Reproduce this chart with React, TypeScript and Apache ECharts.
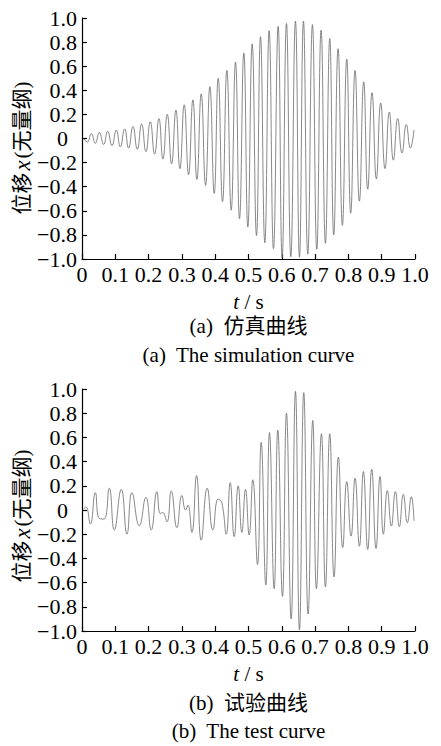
import React, { useEffect, useRef } from "react";
import * as echarts from "echarts";

// Simulation curve (a): extrema (time in s, displacement, dimensionless)
const simT = [
  0.005, 0.016, 0.028, 0.040, 0.052, 0.065, 0.077, 0.090, 0.103, 0.115,
  0.128, 0.140, 0.153, 0.166, 0.179, 0.192, 0.205, 0.218, 0.231, 0.243,
  0.256, 0.269, 0.282, 0.294, 0.307, 0.320, 0.333, 0.345, 0.358, 0.371,
  0.384, 0.397, 0.409, 0.422, 0.435, 0.448, 0.461, 0.473, 0.486, 0.498,
  0.511, 0.524, 0.536, 0.549, 0.562, 0.575, 0.589, 0.601, 0.614, 0.627,
  0.641, 0.653, 0.665, 0.678, 0.692, 0.705, 0.718, 0.731, 0.744, 0.756,
  0.769, 0.782, 0.795, 0.807, 0.820, 0.833, 0.846, 0.858, 0.871, 0.884,
  0.897, 0.910, 0.923, 0.935, 0.948, 0.961, 0.974, 0.986, 0.997,
];
const simV = [
  0.0, -0.03, 0.04, -0.04, 0.05, -0.05, 0.06, -0.06, 0.07, -0.07,
  0.08, -0.08, 0.10, -0.09, 0.12, -0.11, 0.14, -0.13, 0.165, -0.17,
  0.20, -0.21, 0.235, -0.25, 0.28, -0.30, 0.32, -0.34, 0.37, -0.39,
  0.43, -0.455, 0.50, -0.525, 0.565, -0.595, 0.635, -0.665, 0.71, -0.735,
  0.785, -0.805, 0.845, -0.865, 0.895, -0.915, 0.93, -0.99, 0.955, -0.98,
  0.975, -0.985, 0.975, -0.96, 0.945, -0.92, 0.90, -0.87, 0.83, -0.80,
  0.745, -0.72, 0.66, -0.62, 0.565, -0.52, 0.47, -0.42, 0.38, -0.335,
  0.295, -0.25, 0.22, -0.18, 0.165, -0.12, 0.115, -0.08, 0.07,
];

// Test curve (b): extrema
const testT = [
  0.005, 0.012, 0.025, 0.040, 0.052, 0.066, 0.082, 0.097, 0.118, 0.135,
  0.150, 0.172, 0.192, 0.208, 0.225, 0.235, 0.242, 0.255, 0.268, 0.285,
  0.300, 0.311, 0.318, 0.330, 0.344, 0.358, 0.376, 0.393, 0.409, 0.420,
  0.433, 0.445, 0.457, 0.469, 0.480, 0.491, 0.502, 0.513, 0.527, 0.538,
  0.552, 0.563, 0.577, 0.588, 0.602, 0.614, 0.628, 0.641, 0.653, 0.666,
  0.679, 0.693, 0.704, 0.719, 0.731, 0.744, 0.757, 0.770, 0.783, 0.795,
  0.808, 0.820, 0.833, 0.845, 0.858, 0.870, 0.883, 0.895, 0.905, 0.917,
  0.929, 0.941, 0.953, 0.965, 0.977, 0.989, 0.997,
];
const testV = [
  0.01, 0.025, -0.116, 0.143, -0.07, -0.075, 0.18, -0.165, 0.171, -0.20,
  0.143, -0.13, 0.105, -0.165, 0.152, -0.03, -0.02, -0.097, 0.157, -0.146,
  0.12, 0.0, 0.04, -0.185, 0.284, -0.25, 0.18, -0.165, 0.09, 0.06,
  -0.2, 0.226, -0.22, 0.2, -0.185, 0.17, -0.207, 0.25, -0.45, 0.56,
  -0.62, 0.64, -0.65, 0.66, -0.714, 0.80, -0.90, 0.98, -0.99, 0.97,
  -0.86, 0.74, -0.65, 0.63, -0.636, 0.63, -0.553, 0.437, -0.31, 0.235,
  -0.216, 0.263, -0.30, 0.318, -0.326, 0.337, -0.318, 0.277, -0.2, 0.16,
  -0.133, 0.152, -0.138, 0.13, -0.105, 0.11, -0.09,
];

const yAxisTitle = ["位移", "x", "(无量纲)"];
const xAxisTitle = ["t", " / s"];
const captionsA = ["(a)  仿真曲线", "(a)  The simulation curve"];
const captionsB = ["(b)  试验曲线", "(b)  The test curve"];

const FONT = "'Liberation Serif', 'Times New Roman', 'Noto Sans CJK SC', serif";
const TICK_FS = 22;

function pairs(t: number[], v: number[]) {
  return t.map((x, i) => [x, v[i]]);
}

export default function App() {
  const ref = useRef<HTMLDivElement>(null);
  useEffect(() => {
    document.body.style.margin = "0";
    if (!ref.current) return;
    const chart = echarts.init(ref.current, undefined, { renderer: "svg" });

    const grids = [
      { left: 82, top: 18, width: 333, height: 241, outerBoundsMode: "none", containLabel: false },
      { left: 82, top: 389, width: 333, height: 242, outerBoundsMode: "none", containLabel: false },
    ];

    const xAxisCommon = (gi: number) => ({
      type: "value" as const,
      gridIndex: gi,
      min: 0,
      max: 1,
      interval: 0.1,
      name: `{i|${xAxisTitle[0]}}{n|${xAxisTitle[1]}}`,
      nameLocation: "middle" as const,
      nameGap: 32,
      nameTextStyle: {
        color: "#000",
        rich: {
          i: { fontFamily: FONT, fontSize: 21, fontStyle: "italic", color: "#000" },
          n: { fontFamily: FONT, fontSize: 21, color: "#000" },
        },
      },
      axisLine: { show: true, onZero: false, lineStyle: { color: "#000", width: 1.2 } },
      axisTick: { show: true, inside: true, length: 5, lineStyle: { color: "#000", width: 1.2 } },
      splitLine: { show: false },
      axisLabel: {
        margin: 4,
        fontFamily: FONT,
        fontSize: TICK_FS,
        color: "#000",
        formatter: (v: number) => (v === 0 ? "0" : v.toFixed(1)),
      },
    });

    const yAxisCommon = (gi: number) => ({
      type: "value" as const,
      gridIndex: gi,
      min: -1,
      max: 1,
      interval: 0.2,
      axisLine: { show: true, onZero: false, lineStyle: { color: "#000", width: 1.2 } },
      axisTick: { show: true, inside: true, length: 5, lineStyle: { color: "#000", width: 1.2 } },
      splitLine: { show: false },
      axisLabel: {
        margin: 5,
        fontFamily: FONT,
        fontSize: TICK_FS,
        color: "#000",
        formatter: (v: number) => {
          const r = Math.round(v * 10) / 10;
          if (r === 0) return "{z|0}";
          return r.toFixed(1).replace("-", "\u2212");
        },
        rich: {
          z: { fontFamily: FONT, fontSize: TICK_FS, color: "#000", padding: [0, 9, 0, 0] },
        },
      },
    });

    const caption = (text: string, y: number) => ({
      type: "text" as const,
      x: 248.5,
      y,
      style: {
        text,
        fontFamily: FONT,
        fontSize: 21,
        fill: "#000",
        align: "center",
        verticalAlign: "middle",
      },
    });

    const yName = (cy: number) => ({
      type: "text" as const,
      x: 22,
      y: cy,
      rotation: Math.PI / 2,
      style: {
        text: `{a|${yAxisTitle[0]}}{i|${yAxisTitle[1]}}{a|${yAxisTitle[2]}}`,
        align: "center",
        verticalAlign: "middle",
        fill: "#000",
        rich: {
          a: { fontFamily: FONT, fontSize: 21, fill: "#000", color: "#000" },
          i: { fontFamily: FONT, fontSize: 23, fontStyle: "italic", fill: "#000", color: "#000", padding: [0, 2, 0, 2] },
        },
      },
    });

    chart.setOption({
      animation: false,
      grid: grids,
      xAxis: [xAxisCommon(0), xAxisCommon(1)],
      yAxis: [yAxisCommon(0), yAxisCommon(1)],
      series: [
        {
          type: "line",
          xAxisIndex: 0,
          yAxisIndex: 0,
          data: pairs(simT, simV),
          smooth: 0.5,
          showSymbol: false,
          lineStyle: { color: "#6a6a6a", width: 0.8 },
        },
        {
          type: "line",
          xAxisIndex: 1,
          yAxisIndex: 1,
          data: pairs(testT, testV),
          smooth: 0.5,
          showSymbol: false,
          lineStyle: { color: "#6a6a6a", width: 0.8 },
        },
      ],
      graphic: [
        yName(148),
        yName(516),
        caption(captionsA[0], 326),
        caption(captionsA[1], 355),
        caption(captionsB[0], 703),
        caption(captionsB[1], 731),
      ],
    });
    return () => chart.dispose();
  }, []);
  return <div ref={ref} style={{ width: 441, height: 746 }} />;
}
